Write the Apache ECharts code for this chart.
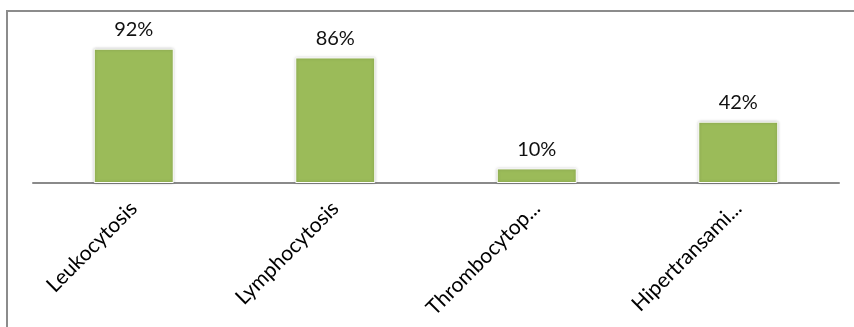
<!DOCTYPE html>
<html>
<head>
<meta charset="utf-8">
<script src="https://cdn.jsdelivr.net/npm/echarts@6/dist/echarts.min.js"></script>
<style>html,body{margin:0;padding:0;background:#fff;}#c{width:854px;height:327px;}</style>
</head>
<body>
<div id="c"></div>
<script>
const categories = ['Leukocytosis', 'Lymphocytosis', 'Thrombocytop...', 'Hipertransami...'];
const values = [92, 86, 10, 42];

const chart = echarts.init(document.getElementById('c'));
chart.setOption({
  animation: false,
  grid: { left: 33, right: 15, top: 37, bottom: 144, containLabel: false },
  graphic: [{
    type: 'rect', shape: { x: 7, y: 11, width: 900, height: 400 },
    style: { fill: 'none', stroke: '#8c8c8c', lineWidth: 2 }, silent: true, z: -1
  }],
  xAxis: {
    type: 'category', data: categories,
    axisLine: { lineStyle: { color: '#8a8a8a', width: 2 } },
    axisTick: { show: false },
    axisLabel: { rotate: 45, margin: 22, color: '#000', fontFamily: 'Lato', fontSize: 21, interval: 0 }
  },
  yAxis: {
    type: 'value', min: 0, max: 100, show: false, splitLine: { show: false }
  },
  series: [{
    type: 'bar', data: values, barWidth: 80,
    itemStyle: { color: '#9bbb59', borderColor: '#ffffff', borderWidth: 1, shadowColor: 'rgba(0,0,0,0.25)', shadowBlur: 3 },
    label: { show: true, position: 'top', distance: 9, formatter: '{c}%', color: '#111', fontFamily: 'Lato', fontSize: 20 }
  }]
});
</script>
</body>
</html>
